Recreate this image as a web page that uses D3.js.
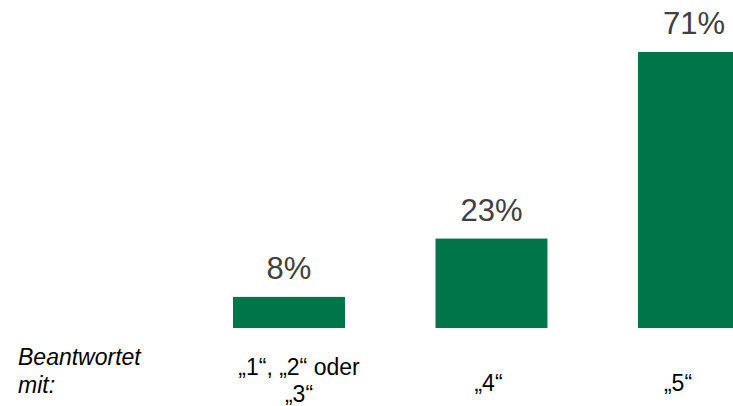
<!DOCTYPE html>
<html>
<head>
<meta charset="utf-8">
<script src="https://cdn.jsdelivr.net/npm/d3@7"></script>
<style>
  html, body { margin: 0; padding: 0; background: #fff; }
  svg { display: block; }
  text { font-family: "Liberation Sans", Arial, sans-serif; }
</style>
</head>
<body>
<svg id="chart" width="733" height="406"></svg>
<script>
// ---- data ----
const categories = ["1-3", "4", "5"];
const categoryLabels = [["„1“, „2“ oder", "„3“"], ["„4“"], ["„5“"]];
const values = [8, 23, 71];
const valueLabels = ["8%", "23%", "71%"];
const rowLabel = ["Beantwortet", "mit:"];

// ---- layout ----
const svg = d3.select("#chart");
const baseline = 328;

const x = d3.scaleBand()
  .domain(categories)
  .range([233, 750])
  .paddingInner(0.447)
  .paddingOuter(0);

const y = d3.scaleLinear()
  .domain([0, 71])
  .range([baseline, 52]);

const xLabel = d3.scalePoint()
  .domain(categories)
  .range([299, 678]);

const green = "#00754A";

// bars
svg.append("g").selectAll("rect")
  .data(values)
  .join("rect")
  .attr("x", (d, i) => x(categories[i]))
  .attr("y", d => y(d))
  .attr("width", x.bandwidth())
  .attr("height", d => baseline - y(d))
  .attr("fill", green);

// value labels
svg.append("g").selectAll("text")
  .data(values)
  .join("text")
  .attr("x", (d, i) => x(categories[i]) + x.bandwidth() / 2)
  .attr("y", d => y(d) - 18)
  .attr("text-anchor", "middle")
  .attr("font-size", 31)
  .attr("fill", "#404040")
  .text((d, i) => valueLabels[i]);

// category labels
const lineH = 27;
const catG = svg.append("g");
categories.forEach((c, i) => {
  const lines = categoryLabels[i];
  const t = catG.append("text")
    .attr("text-anchor", "middle")
    .attr("font-size", 23)
    .attr("fill", "#000");
  const firstY = lines.length > 1 ? 375 : 391;
  lines.forEach((ln, j) => {
    t.append("tspan")
      .attr("x", xLabel(c))
      .attr("y", firstY + j * lineH)
      .text(ln);
  });
});

// row label
const rl = svg.append("text")
  .attr("font-size", 23)
  .attr("font-style", "italic")
  .attr("fill", "#000");
rowLabel.forEach((ln, j) => {
  rl.append("tspan").attr("x", 18).attr("y", 365 + j * 28).text(ln);
});
</script>
</body>
</html>
